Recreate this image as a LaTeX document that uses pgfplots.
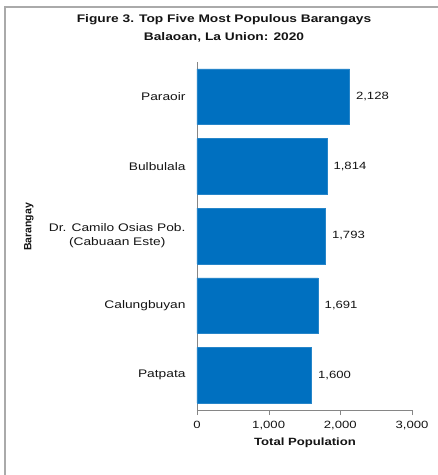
\documentclass[border=0pt]{standalone}
\usepackage{fontspec}
\setmainfont{Liberation Sans}[FakeStretch=1.25]
\newfontfamily\narrowfont{Liberation Sans}
\usepackage{pgfplots}
\pgfplotsset{compat=1.18}
\definecolor{barblue}{RGB}{0,112,192}
\definecolor{axisgray}{RGB}{134,134,134}
\definecolor{txt}{RGB}{20,20,20}

\begin{document}
\begin{tikzpicture}
\begin{axis}[
    scale only axis,
    width=215bp, height=348bp,
    xbar,
    bar width=0.8,
    xmin=0, xmax=3000,
    ymin=-0.5, ymax=4.5,
    axis x line*=bottom,
    axis y line*=left,
    axis line style={color=axisgray},
    xtick={0,1000,2000,3000},
    ytick={0,1,2,3,4},
    yticklabels={Patpata,Calungbuyan,{Dr. Camilo Osias Pob.\\(Cabuaan Este)},Bulbulala,Paraoir},
    yticklabel style={align=center, text=txt, xshift=-3bp, font=\fontsize{11bp}{14bp}\selectfont},
    xticklabel style={text=txt, yshift=-3bp, font=\fontsize{10.5bp}{12.5bp}\selectfont},
    tick align=outside,
    major tick length=5bp,
    x tick style={color=axisgray},
    y tick style={draw=none},
    /pgf/number format/.cd, 1000 sep={,}, assume math mode=true,
    /pgfplots/.cd,
    nodes near coords,
    nodes near coords style={font=\fontsize{10.5bp}{12.5bp}\selectfont, text=txt, xshift=3bp},
    clip=false,
]
\addplot[fill=barblue, draw=barblue!85!white] coordinates {
    (1600,0) (1691,1) (1793,2) (1814,3) (2128,4)
};
\end{axis}

% chart frame and titles, placed relative to the axis corner
\path[use as bounding box] (-197bp,-65bp) rectangle (241bp,410bp);
\draw[color=axisgray!70, line width=1.2bp] (-192bp,-65bp) -- (-192bp,403bp) -- (241bp,403bp);
\node[font=\fontsize{11bp}{13bp}\selectfont\bfseries, text=txt] at (27bp,390bp) {Figure 3. Top Five Most Populous Barangays};
\node[font=\fontsize{11bp}{13bp}\selectfont\bfseries, text=txt] at (27bp,373bp) {Balaoan, La Union: 2020};
\node[font=\fontsize{10.5bp}{12bp}\selectfont\bfseries, text=txt] at (108bp,-33bp) {Total Population};
\node[font=\narrowfont\fontsize{10.5bp}{12bp}\selectfont\bfseries, text=txt, rotate=90] at (-168bp,183bp) {Barangay};
\end{tikzpicture}
\end{document}
